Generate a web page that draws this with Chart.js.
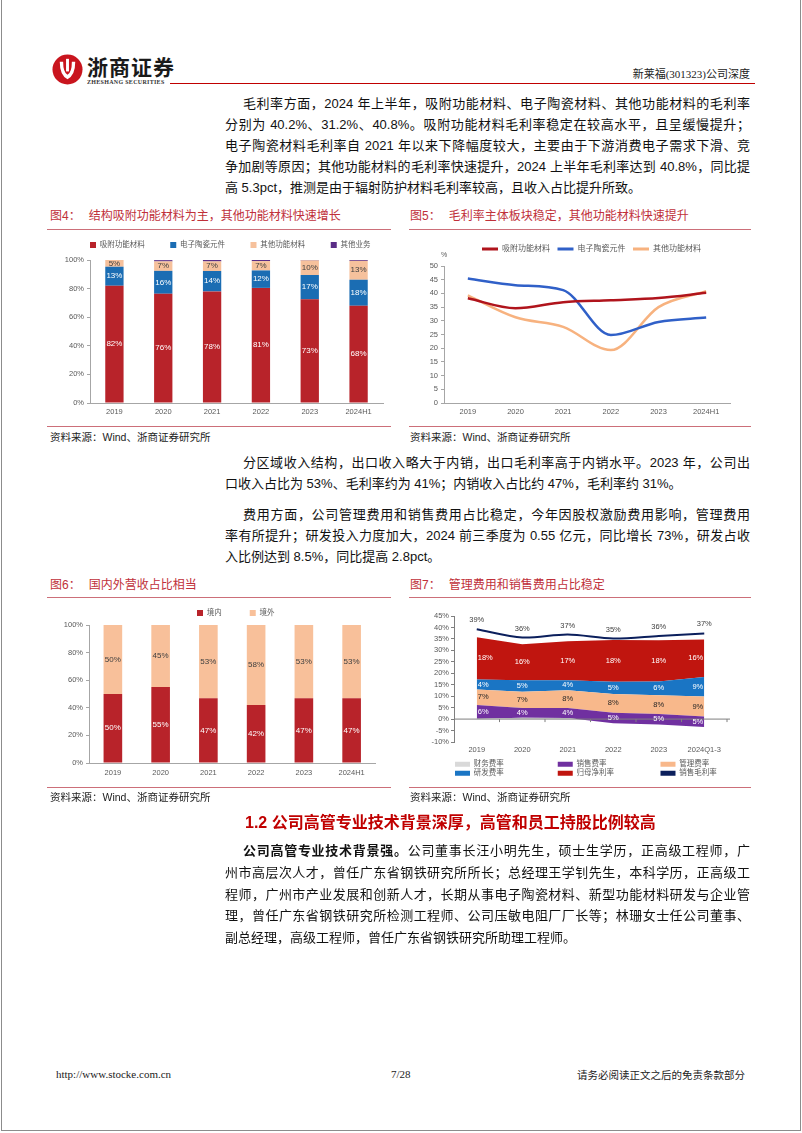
<!DOCTYPE html>
<html>
<head>
<meta charset="utf-8">
<script src="https://cdn.jsdelivr.net/npm/chart.js@4.4.1/dist/chart.umd.min.js"></script>
<style>
html, body { margin: 0; padding: 0; background: #fff; }
#page { position: relative; width: 802px; height: 1133px; overflow: hidden;
  font-family: "Liberation Sans", "Noto Sans CJK SC", sans-serif; color: #111; }
.frame { position: absolute; left: 1px; top: -3px; width: 798px; height: 1132px; border: 1px solid #8c8c8c; }
.ln { position: absolute; font-size: 13px; line-height: 21px; height: 21px; white-space: nowrap;
  text-align: justify; text-align-last: justify; }
.ln.end { text-align-last: left; }
.ft { position: absolute; font-size: 12px; line-height: 16px; color: #c0303a; white-space: nowrap; }
.ft span { margin-left: 8px; }
.fl { position: absolute; height: 0; border-top: 1.5px solid #cc6f79; }
.src { position: absolute; font-size: 10.5px; line-height: 14px; color: #222; white-space: nowrap; }
canvas { position: absolute; }
</style>
</head>
<body>
<div id="page">
  <div class="frame"></div>

  <!-- header -->
  <svg style="position:absolute;left:52px;top:54px" width="31" height="31" viewBox="0 0 32 32">
    <circle cx="16" cy="16" r="15.5" fill="#c9151e"/>
    <path d="M8 8 Q8 22 16 26 Q24 22 24 8 L20.5 8 Q20.5 19 16 21.5 Q11.5 19 11.5 8Z" fill="#fff"/>
    <rect x="14.5" y="5" width="3" height="13" fill="#fff"/>
  </svg>
  <div style="position:absolute;left:87px;top:51px;font-size:21px;font-weight:bold;color:#1a1a1a;letter-spacing:1px;">浙商证券</div>
  <div style="position:absolute;left:87px;top:79px;font-size:6px;font-weight:bold;font-family:'Liberation Serif',serif;color:#333;letter-spacing:0.3px;">ZHESHANG SECURITIES</div>
  <div style="position:absolute;left:170px;top:83px;width:585px;border-top:1.5px solid #c00000;"></div>
  <div style="position:absolute;right:52px;top:65px;font-size:11px;font-family:'Liberation Serif','Noto Sans CJK SC',serif;color:#222;">新莱福(301323)公司深度</div>

  <!-- paragraph 1 -->
  <div class="ln" style="left:243px;width:507px;top:93px">毛利率方面，2024 年上半年，吸附功能材料、电子陶瓷材料、其他功能材料的毛利率</div>
  <div class="ln" style="left:225px;width:525px;top:114px">分别为 40.2%、31.2%、40.8%。吸附功能材料毛利率稳定在较高水平，且呈缓慢提升；</div>
  <div class="ln" style="left:225px;width:525px;top:135px">电子陶瓷材料毛利率自 2021 年以来下降幅度较大，主要由于下游消费电子需求下滑、竞</div>
  <div class="ln" style="left:225px;width:525px;top:156px">争加剧等原因；其他功能材料的毛利率快速提升，2024 上半年毛利率达到 40.8%，同比提</div>
  <div class="ln end" style="left:225px;width:525px;top:177px">高 5.3pct，推测是由于辐射防护材料毛利率较高，且收入占比提升所致。</div>

  <!-- figure 4 / 5 -->
  <div class="ft" style="left:50px;top:208px">图4：<span>结构吸附功能材料为主，其他功能材料快速增长</span></div>
  <div class="fl" style="left:47px;width:344px;top:229px"></div>
  <canvas id="c4" width="340" height="193" style="left:50px;top:232px"></canvas>
  <div class="fl" style="left:47px;width:344px;top:426px"></div>
  <div class="src" style="left:50px;top:430px">资料来源：Wind、浙商证券研究所</div>

  <div class="ft" style="left:410px;top:208px">图5：<span>毛利率主体板块稳定，其他功能材料快速提升</span></div>
  <div class="fl" style="left:409px;width:342px;top:229px"></div>
  <canvas id="c5" width="345" height="193" style="left:410px;top:232px"></canvas>
  <div class="fl" style="left:409px;width:342px;top:426px"></div>
  <div class="src" style="left:410px;top:430px">资料来源：Wind、浙商证券研究所</div>

  <!-- paragraph 2 / 3 -->
  <div class="ln" style="left:243px;width:507px;top:452px">分区域收入结构，出口收入略大于内销，出口毛利率高于内销水平。2023 年，公司出</div>
  <div class="ln end" style="left:225px;width:525px;top:473px">口收入占比为 53%、毛利率约为 41%；内销收入占比约 47%，毛利率约 31%。</div>
  <div class="ln" style="left:243px;width:507px;top:504px">费用方面，公司管理费用和销售费用占比稳定，今年因股权激励费用影响，管理费用</div>
  <div class="ln" style="left:225px;width:525px;top:525px">率有所提升；研发投入力度加大，2024 前三季度为 0.55 亿元，同比增长 73%，研发占收</div>
  <div class="ln end" style="left:225px;width:525px;top:546px">入比例达到 8.5%，同比提高 2.8pct。</div>

  <!-- figure 6 / 7 -->
  <div class="ft" style="left:50px;top:577px">图6：<span>国内外营收占比相当</span></div>
  <div class="fl" style="left:47px;width:344px;top:597px"></div>
  <canvas id="c6" width="340" height="189" style="left:50px;top:599px"></canvas>
  <div class="fl" style="left:47px;width:344px;top:787px"></div>
  <div class="src" style="left:50px;top:790px">资料来源：Wind、浙商证券研究所</div>

  <div class="ft" style="left:410px;top:577px">图7：<span>管理费用和销售费用占比稳定</span></div>
  <div class="fl" style="left:409px;width:342px;top:597px"></div>
  <canvas id="c7" width="345" height="189" style="left:410px;top:599px"></canvas>
  <div class="fl" style="left:409px;width:342px;top:787px"></div>
  <div class="src" style="left:410px;top:790px">资料来源：Wind、浙商证券研究所</div>

  <!-- section 1.2 -->
  <div style="position:absolute;left:245px;top:809px;font-size:16px;font-weight:bold;color:#c00000;white-space:nowrap;">1.2 公司高管专业技术背景深厚，高管和员工持股比例较高</div>
  <div class="ln" style="left:243px;width:507px;top:840px"><b>公司高管专业技术背景强。</b>公司董事长汪小明先生，硕士生学历，正高级工程师，广</div>
  <div class="ln" style="left:225px;width:525px;top:862px">州市高层次人才，曾任广东省钢铁研究所所长；总经理王学钊先生，本科学历，正高级工</div>
  <div class="ln" style="left:225px;width:525px;top:884px">程师，广州市产业发展和创新人才，长期从事电子陶瓷材料、新型功能材料研发与企业管</div>
  <div class="ln" style="left:225px;width:525px;top:905px">理，曾任广东省钢铁研究所检测工程师、公司压敏电阻厂厂长等；林珊女士任公司董事、</div>
  <div class="ln end" style="left:225px;width:525px;top:927px">副总经理，高级工程师，曾任广东省钢铁研究所助理工程师。</div>

  <!-- footer -->
  <div style="position:absolute;left:56px;top:1068px;font-size:11px;font-family:'Liberation Serif',serif;color:#222;">http://www.stocke.com.cn</div>
  <div style="position:absolute;left:391px;top:1068px;font-size:11px;font-family:'Liberation Serif',serif;color:#222;">7/28</div>
  <div style="position:absolute;right:57px;top:1067px;font-size:10.5px;color:#222;">请务必阅读正文之后的免责条款部分</div>
</div>

<script>
Chart.defaults.font.family = '"Liberation Sans", "Noto Sans CJK SC", sans-serif';
Chart.defaults.color = '#595959';
Chart.defaults.animation = false;

// ---- 图4 收入结构 (%)
const years = ['2019', '2020', '2021', '2022', '2023', '2024H1'];
const adsorbShare = [82, 76.4, 78, 80.5, 72.5, 68];
const ceramicShare = [13.3, 16, 14.3, 12.2, 17, 18.2];
const otherMatShare = [4.7, 6.6, 6.7, 6.5, 10.2, 13.2];
const otherBizShare = [0, 0.9, 1, 0.8, 0.3, 0.6];

// ---- 图5 毛利率 (%)
const gmAdsorb = [38.2, 34.6, 36.8, 37.5, 38.3, 40.2];
const gmCeramic = [45.4, 43.0, 41.2, 24.8, 29.6, 31.2];
const gmOther = [39.3, 31.3, 27.8, 19.3, 35.0, 40.8];

// ---- 图6 境内/境外 (%)
const domestic = [50, 55, 47, 42, 47, 47];
const overseas = [50, 45, 53, 58, 53, 53];

// ---- 图7 费用率 (%)
const feeYears = ['2019', '2020', '2021', '2022', '2023', '2024Q1-3'];
const finRate = [0.2, 0.6, 0.5, -1.8, -2.4, -3.5];
const sellRate = [5.9, 4.2, 4.3, 4.6, 4.6, 4.6];
const adminRate = [6.8, 7.1, 7.8, 8.1, 8.2, 8.8];
const rdRate = [4.4, 5.0, 4.4, 5.4, 6.0, 8.5];
const netRate = [18.4, 15.8, 17.0, 18.2, 18.0, 16.3];
const grossRate = [39.2, 35.6, 36.9, 35.2, 36.3, 37.4];

const pct = v => v + '%';
const fixW = w => s => { s.width = w; };
const fixH = h => s => { s.height = h; };
const AXIS = '#a6a6a6';

// put the legend where the original has it (x0 = first box, y = row centre)
function placeLegend(cfg) {
  return {
    id: 'placeLegend',
    beforeInit(chart) {
      const lg = chart.legend, fit = lg.fit;
      lg.fit = function () { fit.call(this); this.height = cfg.height; };
    },
    afterLayout(chart) {
      const lg = chart.legend;
      lg.left = cfg.x0 - cfg.pad;
      lg.right = lg.left + cfg.w;
      lg.width = cfg.w;
      lg.top = cfg.y - cfg.pad - cfg.ih / 2;
      lg.bottom = lg.top + 40;
      lg.height = 40;
    }
  };
}

function legendOpts(size, box, bh, pad, extra) {
  return Object.assign({
    align: 'start',
    labels: { boxWidth: box, boxHeight: bh, padding: pad, font: { size: size }, color: '#595959' }
  }, extra || {});
}

const barLabels = {
  id: 'barLabels',
  afterDatasetsDraw(chart) {
    const ctx = chart.ctx;
    ctx.save();
    ctx.font = '8px "Liberation Sans", sans-serif';
    ctx.textAlign = 'center';
    ctx.textBaseline = 'middle';
    chart.data.datasets.forEach((ds, i) => {
      if (!ds.labelColor) return;
      ctx.fillStyle = ds.labelColor;
      chart.getDatasetMeta(i).data.forEach((bar, j) => {
        const p = bar.getProps(['x', 'y', 'base'], true);
        ctx.fillText(Math.round(ds.data[j]) + '%', p.x, (p.y + p.base) / 2);
      });
    });
    ctx.restore();
  }
};

// ---------- 图4
new Chart(document.getElementById('c4'), {
  type: 'bar',
  data: {
    labels: years,
    datasets: [
      { label: '吸附功能材料', data: adsorbShare, backgroundColor: '#b8232a', labelColor: '#fff' },
      { label: '电子陶瓷元件', data: ceramicShare, backgroundColor: '#1b6db3', labelColor: '#fff' },
      { label: '其他功能材料', data: otherMatShare, backgroundColor: '#f6c19c', labelColor: '#404040' },
      { label: '其他业务', data: otherBizShare, backgroundColor: '#5a2d86' }
    ]
  },
  options: {
    responsive: false, devicePixelRatio: 1,
    layout: { padding: { right: 7 } },
    datasets: { bar: { barPercentage: 0.375, categoryPercentage: 1 } },
    scales: {
      x: { stacked: true, grid: { display: false, drawTicks: false }, border: { color: AXIS },
        ticks: { font: { size: 7.5 }, padding: 4 }, afterFit: fixH(22) },
      y: { stacked: true, min: 0, max: 100,
        ticks: { stepSize: 20, autoSkip: false, callback: pct, font: { size: 7.5 }, padding: 3 },
        grid: { drawOnChartArea: false, tickLength: 3, color: AXIS }, border: { color: AXIS },
        afterFit: fixW(40) }
    },
    plugins: { legend: legendOpts(7.5, 6, 6, 25.5), tooltip: { enabled: false } }
  },
  plugins: [placeLegend({ x0: 40, y: 13, pad: 25.5, ih: 7.5, w: 400, height: 28 }), barLabels]
});

// ---------- 图5
const unitLabel = {
  id: 'unitLabel',
  afterDraw(chart) {
    const { ctx, chartArea: a } = chart;
    ctx.save();
    ctx.font = '7px "Liberation Sans", sans-serif';
    ctx.fillStyle = '#595959';
    ctx.textAlign = 'center';
    ctx.textBaseline = 'middle';
    ctx.fillText('%', a.left, a.top - 11);
    ctx.restore();
  }
};

const lineDs = (label, data, color) => ({
  label, data, borderColor: color, backgroundColor: color, borderWidth: 2.5,
  pointRadius: 0, cubicInterpolationMode: 'monotone', fill: false
});

new Chart(document.getElementById('c5'), {
  type: 'line',
  data: {
    labels: years,
    datasets: [
      lineDs('吸附功能材料', gmAdsorb, '#b0141c'),
      lineDs('电子陶瓷元件', gmCeramic, '#3060c8'),
      lineDs('其他功能材料', gmOther, '#f7b27f')
    ]
  },
  options: {
    responsive: false, devicePixelRatio: 1,
    layout: { padding: { right: 25 } },
    scales: {
      x: { offset: true, grid: { display: false, drawTicks: false }, border: { color: AXIS },
        ticks: { font: { size: 7.5 }, padding: 4 }, afterFit: fixH(22) },
      y: { min: 0, max: 50, ticks: { stepSize: 5, autoSkip: false, font: { size: 7.5 }, padding: 3 },
        grid: { drawOnChartArea: false, tickLength: 3, color: AXIS }, border: { color: AXIS },
        afterFit: fixW(34) }
    },
    plugins: {
      legend: legendOpts(8, 16, 3, 7.5, {
        labels: { boxWidth: 16, boxHeight: 3, padding: 7.5, font: { size: 8 }, color: '#595959',
          generateLabels(chart) {
            return Chart.defaults.plugins.legend.labels.generateLabels(chart)
              .map(it => Object.assign(it, { lineWidth: 0 }));
          } }
      }),
      tooltip: { enabled: false }
    }
  },
  plugins: [placeLegend({ x0: 72, y: 17, pad: 7.5, ih: 8, w: 400, height: 34 }), unitLabel]
});

// ---------- 图6
new Chart(document.getElementById('c6'), {
  type: 'bar',
  data: {
    labels: years,
    datasets: [
      { label: '境内', data: domestic, backgroundColor: '#b8232a', labelColor: '#fff' },
      { label: '境外', data: overseas, backgroundColor: '#f8c09a', labelColor: '#404040' }
    ]
  },
  options: {
    responsive: false, devicePixelRatio: 1,
    layout: { padding: { right: 14.5 } },
    datasets: { bar: { barPercentage: 0.39, categoryPercentage: 1 } },
    scales: {
      x: { stacked: true, grid: { display: false, drawTicks: false }, border: { color: AXIS },
        ticks: { font: { size: 7.5 }, padding: 5 }, afterFit: fixH(25) },
      y: { stacked: true, min: 0, max: 100,
        ticks: { stepSize: 20, autoSkip: false, callback: pct, font: { size: 7.5 }, padding: 3 },
        grid: { drawOnChartArea: false, tickLength: 3, color: AXIS }, border: { color: AXIS },
        afterFit: fixW(39) }
    },
    plugins: { legend: legendOpts(7.5, 6, 6, 28), tooltip: { enabled: false } }
  },
  plugins: [placeLegend({ x0: 147, y: 14, pad: 28, ih: 7.5, w: 400, height: 26 }), barLabels]
});

// ---------- 图7
const feeLabels = {
  id: 'feeLabels',
  afterDatasetsDraw(chart) {
    const { ctx, chartArea: a, scales: { y } } = chart;
    const n = chart.data.labels.length;
    const y0 = y.getPixelForValue(0);
    ctx.save();
    ctx.strokeStyle = '#7f7f7f';
    ctx.lineWidth = 1;
    ctx.beginPath();
    ctx.moveTo(a.left, y0); ctx.lineTo(a.right + 3, y0);
    const step = (a.right - a.left) / n;
    for (let k = 1; k <= n; k++) {
      ctx.moveTo(a.left + k * step, y0); ctx.lineTo(a.left + k * step, y0 + 3);
    }
    ctx.stroke();
    ctx.font = '7.5px "Liberation Sans", sans-serif';
    ctx.textBaseline = 'middle';
    let below = null;
    chart.data.datasets.forEach((ds, i) => {
      const pts = chart.getDatasetMeta(i).data;
      if (ds.stack === 'margin') {
        ctx.fillStyle = '#404040';
        ctx.textAlign = 'center';
        pts.forEach((p, j) => ctx.fillText(Math.round(ds.data[j]) + '%', p.x, p.y - 9));
        return;
      }
      if (ds.labelColor && below) {
        ctx.fillStyle = ds.labelColor;
        pts.forEach((p, j) => {
          let x = p.x;
          if (j === 0) { ctx.textAlign = 'left'; x += 1; }
          else if (j === n - 1) { ctx.textAlign = 'right'; x -= 1; }
          else ctx.textAlign = 'center';
          ctx.fillText(Math.round(ds.data[j]) + '%', x, (p.y + below[j]) / 2);
        });
      }
      below = pts.map(p => p.y);
    });
    ctx.restore();
  }
};

const areaDs = (label, data, color, labelColor, fill) => ({
  label, data, backgroundColor: color, borderColor: color, borderWidth: 0,
  pointRadius: 0, tension: 0, stack: 'fee', fill: fill || '-1', labelColor
});
const padText = (t, n) => t + '\u3000'.repeat(n - t.length);

new Chart(document.getElementById('c7'), {
  type: 'line',
  data: {
    labels: feeYears,
    datasets: [
      areaDs('财务费率', finRate, '#d9d9d9', null, { target: 'origin', above: '#d9d9d9', below: 'rgba(0,0,0,0)' }),
      areaDs('销售费率', sellRate, '#7030a0', '#fff'),
      areaDs('管理费率', adminRate, '#f8b88b', '#262626'),
      areaDs('研发费率', rdRate, '#1a75c4', '#fff'),
      areaDs('归母净利率', netRate, '#c0150f', '#fff'),
      { label: '销售毛利率', data: grossRate, borderColor: '#0b1f5c', backgroundColor: '#0b1f5c',
        borderWidth: 2, pointRadius: 0, tension: 0.3, stack: 'margin', fill: false }
    ]
  },
  options: {
    responsive: false, devicePixelRatio: 1,
    layout: { padding: { top: 17, right: 28 } },
    scales: {
      x: { offset: true, grid: { display: false, drawTicks: false }, border: { display: false },
        ticks: { font: { size: 7.5 }, padding: 3.5 }, afterFit: fixH(16) },
      y: { stacked: 'single', min: -10, max: 45,
        ticks: { stepSize: 5, autoSkip: false, callback: pct, font: { size: 7.5 }, padding: 2 },
        grid: { drawOnChartArea: false, tickLength: 3, color: '#7f7f7f' }, border: { color: '#7f7f7f' },
        afterFit: fixW(44) }
    },
    plugins: {
      legend: {
        position: 'bottom', align: 'start',
        labels: { boxWidth: 15, boxHeight: 5, padding: 1.5, font: { size: 7.5 }, color: '#595959',
          generateLabels(chart) {
            return Chart.defaults.plugins.legend.labels.generateLabels(chart)
              .map(it => Object.assign(it, { lineWidth: 0, text: padText(it.text, 11) }));
          } }
      },
      tooltip: { enabled: false }
    }
  },
  plugins: [placeLegend({ x0: 45, y: 165.3, pad: 1.5, ih: 7.5, w: 350, height: 30 }), feeLabels]
});
</script>
</body>
</html>
